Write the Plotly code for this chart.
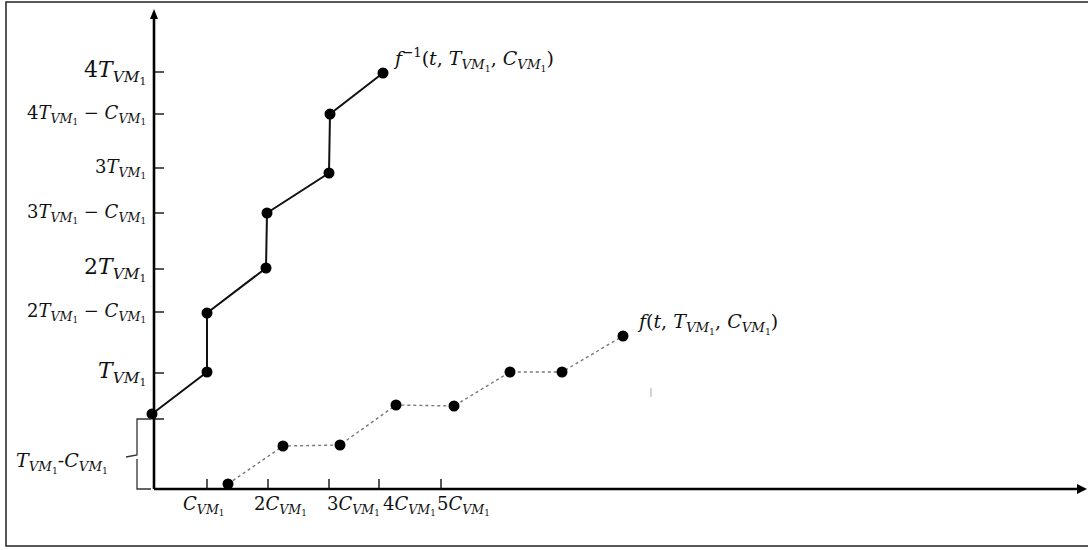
import plotly.graph_objects as go

# Step-like timing curves (abstract time units along t, value units along v)
t_inverse = [-2, 53, 53, 112, 113, 175, 176, 229]
v_inverse = [75, 117, 176, 221, 276, 316, 375, 416]
t_forward = [74, 129, 186, 242, 300, 356, 408, 469]
v_forward = [5, 43, 44, 84, 83, 117, 117, 153]

# Axis tick values and their labels
x_tick_vals = [53, 114, 175, 225, 287]
x_tick_coef = ["", "2", "3", "4", "5"]
y_tick_vals = [70, 116, 177, 220, 276, 321, 375, 417]
y_tick_kind = ["bracket", "T", "T-C", "T", "T-C", "T", "T-C", "T"]
y_tick_coef = ["", "", "2", "2", "3", "3", "4", "4"]

X_END, Y_END = 933, 480
FONT = "DejaVu Serif"


def vm(sym):
    return f"<i>{sym}</i><sub><i>VM</i><sub>1</sub></sub>"


fig = go.Figure()

fig.add_trace(go.Scatter(
    x=t_inverse, y=v_inverse, mode="lines+markers",
    line=dict(color="#111111", width=2),
    marker=dict(color="#000000", size=11),
    hoverinfo="skip"))
fig.add_trace(go.Scatter(
    x=t_forward, y=v_forward, mode="lines+markers",
    line=dict(color="#777777", width=1.4, dash="dot"),
    marker=dict(color="#000000", size=11),
    hoverinfo="skip"))

shapes = []
line_k = dict(color="#000000", width=2.6)
# axes
shapes.append(dict(type="line", x0=0, y0=0, x1=X_END - 6, y1=0, line=line_k))
shapes.append(dict(type="line", x0=0, y0=0, x1=0, y1=Y_END - 6, line=line_k))
shapes.append(dict(type="path", path=f"M {X_END-10},-5 L {X_END},0 L {X_END-10},5 Z",
                   fillcolor="#000000", line=dict(width=0)))
shapes.append(dict(type="path", path=f"M -4,{Y_END-10} L 0,{Y_END} L 4,{Y_END-10} Z",
                   fillcolor="#000000", line=dict(width=0)))
# tick marks
for t in x_tick_vals:
    shapes.append(dict(type="line", x0=t, y0=0, x1=t, y1=10,
                       line=dict(color="#111111", width=1.4)))
for v in y_tick_vals:
    shapes.append(dict(type="line", x0=0, y0=v, x1=10, y1=v,
                       line=dict(color="#111111", width=1.4)))
# brace marking the first offset
bc = dict(color="#333333", width=1.3)
shapes.append(dict(type="path",
                   path="M -3,70 L -17,70 L -17,34 L -28,32 M -17,30 L -17,0 L -3,0",
                   line=bc))
# border
shapes.append(dict(type="rect", x0=-148, y0=-57, x1=940, y1=487,
                   line=dict(color="#222222", width=1.5)))
# small stray mark
shapes.append(dict(type="line", x0=497, y0=92, x1=497, y1=101,
                   line=dict(color="#aaaaaa", width=1)))

annotations = []
x_shift = [-4, 12, 24, 30, 22]
for t, c, s in zip(x_tick_vals, x_tick_coef, x_shift):
    annotations.append(dict(x=t, y=-16, text=c + vm("C"), showarrow=False,
                            xanchor="center", yanchor="middle", xshift=s,
                            font=dict(family=FONT, size=18, color="#111111")))

big = {417, 220, 116}
for v, kind, c in zip(y_tick_vals, y_tick_kind, y_tick_coef):
    if kind == "bracket":
        continue
    if kind == "T":
        txt = c + vm("T")
    else:
        txt = c + vm("T") + " − " + vm("C")
    size = 22 if v in big else 18
    annotations.append(dict(x=-6, y=v, text=txt, showarrow=False,
                            xanchor="right", yanchor="middle",
                            font=dict(family=FONT, size=size, color="#111111")))

annotations.append(dict(x=-44, y=27, text=vm("T") + "-" + vm("C"), showarrow=False,
                        xanchor="right", yanchor="middle",
                        font=dict(family=FONT, size=19, color="#111111")))

annotations.append(dict(x=t_inverse[-1], y=v_inverse[-1], showarrow=False,
                        text="<i>f</i><sup>−1</sup>(<i>t</i>, " + vm("T") + ", " + vm("C") + ")",
                        xanchor="left", yanchor="middle", xshift=8, yshift=14,
                        font=dict(family=FONT, size=19, color="#111111")))
annotations.append(dict(x=t_forward[-1], y=v_forward[-1], showarrow=False,
                        text="<i>f</i>(<i>t</i>, " + vm("T") + ", " + vm("C") + ")",
                        xanchor="left", yanchor="middle", xshift=12, yshift=13,
                        font=dict(family=FONT, size=19, color="#111111")))

fig.update_layout(
    width=1088, height=550, autosize=False,
    margin=dict(l=0, r=0, t=0, b=0),
    paper_bgcolor="white", plot_bgcolor="white",
    showlegend=False,
    xaxis=dict(range=[-154, 934], visible=False, fixedrange=True),
    yaxis=dict(range=[-61, 489], visible=False, fixedrange=True),
    shapes=shapes, annotations=annotations,
)

fig.write_html("out.html")
